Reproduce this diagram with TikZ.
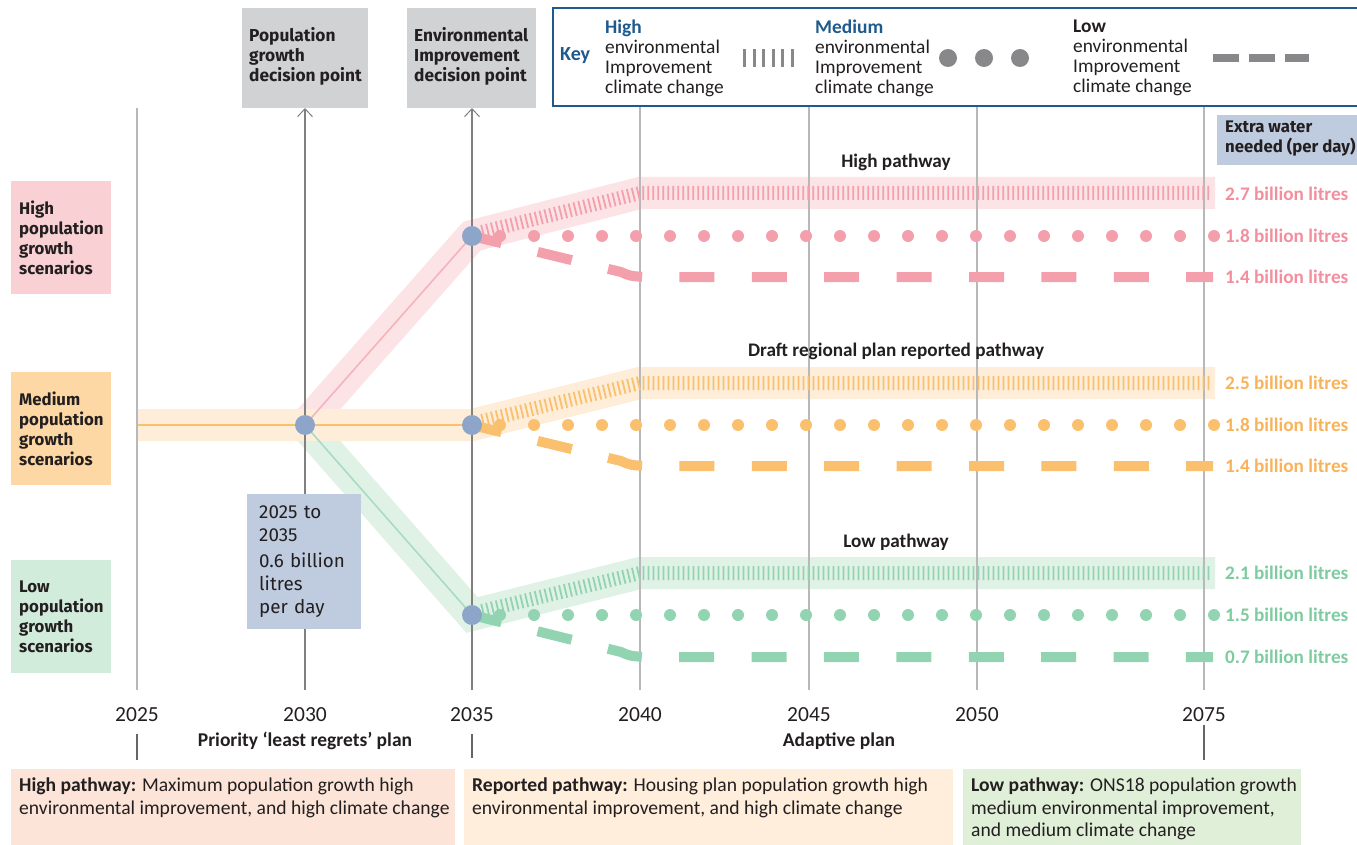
\documentclass[tikz,border=0pt]{standalone}
\usepackage{fontspec}
\setmainfont{Carlito}
\newfontfamily\wide{Fira Sans}
\usetikzlibrary{arrows.meta}
\definecolor{ink}{HTML}{231F20}
\definecolor{pinkc}{HTML}{F4A0AC}
\definecolor{pinkband}{HTML}{FCE3E6}
\definecolor{pinkline}{HTML}{F6B3BB}
\definecolor{pinktext}{HTML}{F28E9E}
\definecolor{orangec}{HTML}{FBC06E}
\definecolor{orangeband}{HTML}{FEEDD8}
\definecolor{orangetext}{HTML}{F8B35A}
\definecolor{greenc}{HTML}{92D4B2}
\definecolor{greenband}{HTML}{E0F1E6}
\definecolor{greenline}{HTML}{A8DCC0}
\definecolor{greentext}{HTML}{7ECBA0}
\definecolor{nodeblue}{HTML}{8CA5C9}
\definecolor{greybox}{HTML}{D1D2D4}
\definecolor{keyblue}{HTML}{1F5A8C}
\definecolor{keygrey}{HTML}{88888A}
\definecolor{infoblue}{HTML}{BFCCE0}
\definecolor{scpink}{HTML}{F9D0D4}
\definecolor{scorange}{HTML}{FDD8A4}
\definecolor{scgreen}{HTML}{D2ECDC}
\definecolor{botpink}{HTML}{FCE4D8}
\definecolor{botorange}{HTML}{FEEEDB}
\definecolor{botgreen}{HTML}{E0EFD8}
\begin{document}
\begin{tikzpicture}[x=1pt,y=-1pt,
  every node/.style={inner sep=0pt, text=ink},
  band/.style={line width=32pt, line join=miter},
  thinline/.style={line width=1.6pt},
  hatch/.style={line width=14pt, dash pattern=on 1.8pt off 3.2pt},
  dotline/.style={line width=12pt, line cap=round, dash pattern=on 0pt off 34pt},
  dashline/.style={line width=10pt, dash pattern=on 35pt off 37.4pt, dash phase=13pt},
  darkgrid/.style={draw=black!50, line width=1.1pt},
  lightgrid/.style={draw=black!28, line width=1.1pt},
  tick/.style={draw=black!60, line width=1.6pt},
  dectext/.style={anchor=west, align=left, font=\wide\bfseries\fontsize{17.3}{20}\selectfont},
  scbox/.style={minimum width=100pt, minimum height=113pt, text width=84pt, align=left,
    font=\wide\bfseries\fontsize{16.8}{20}\selectfont},
  year/.style={font=\fontsize{21.5}{24}\selectfont},
  plan/.style={font=\bfseries\fontsize{19.5}{22}\selectfont},
  pathlabel/.style={font=\bfseries\fontsize{19.2}{22}\selectfont},
  amount/.style={anchor=west, font=\bfseries\fontsize{19.2}{22}\selectfont},
  keytext/.style={anchor=west, align=left, font=\fontsize{19.4}{20}\selectfont},
  botbox/.style={anchor=north west, align=left, font=\fontsize{19.6}{22.5}\selectfont},
  decision/.style={circle, fill=nodeblue, minimum size=20pt}
]
\useasboundingbox (0,0) rectangle (1357,845);

% ---------- path corner points ----------
\coordinate (m0) at (137,425);
\coordinate (h1) at (640,193);  \coordinate (h2) at (1215,193);
\coordinate (o1) at (640,383);  \coordinate (o2) at (1215,383);
\coordinate (g1) at (640,573);  \coordinate (g2) at (1215,573);

% ---------- decision points ----------
\path (305,425) coordinate (p30)
      (472,236) coordinate (ph)
      (472,425) coordinate (pm)
      (472,615) coordinate (pl);

% ---------- pathway bands ----------
\draw[band, pinkband] (p30) -- (ph) -- (h1) -- (h2);
\draw[band, greenband] (p30) -- (pl) -- (g1) -- (g2);
\draw[band, orangeband] (m0) -- (pm) -- (o1) -- (o2);

\draw[thinline, pinkline] (p30) -- (ph);
\draw[thinline, greenline] (p30) -- (pl);
\draw[thinline, orangec] (m0) -- (pm);

% ---------- grid lines ----------
\coordinate (t25) at (137,108);  \coordinate (b25) at (137,690);
\coordinate (t30) at (305,108);  \coordinate (b30) at (305,690);
\coordinate (t35) at (472,108);  \coordinate (b35) at (472,690);
\coordinate (t40) at (640,107);  \coordinate (b40) at (640,690);
\coordinate (t45) at (809,107);  \coordinate (b45) at (809,690);
\coordinate (t50) at (977,107);  \coordinate (b50) at (977,690);
\coordinate (t75) at (1204,107); \coordinate (b75) at (1204,690);
\draw[lightgrid] (b25) -- (t25);
\draw[darkgrid, -{Straight Barb[length=8pt,width=15pt,line width=1pt]}] (b30) -- (t30);
\draw[darkgrid, -{Straight Barb[length=8pt,width=15pt,line width=1pt]}] (b35) -- (t35);
\draw[lightgrid] (b40) -- (t40);
\draw[lightgrid] (b45) -- (t45);
\draw[lightgrid] (b50) -- (t50);
\draw[lightgrid] (b75) -- (t75);

% ---------- high pathway lines ----------
\coordinate (hh0) at (482,232);
\coordinate (hh2) at (1212,193);
\draw[hatch, pinkc] (hh0) -- (h1) -- (hh2);
\coordinate (hd0) at (500,236); \coordinate (hd1) at (1214,236);
\draw[dotline, pinkc] (hd0) -- (hd1);
\coordinate (hl0) at (480,238); \coordinate (hl1) at (621,272);
\coordinate (hl2) at (645,277); \coordinate (hl3) at (1213,277);
\draw[dashline, pinkc] (hl0) -- (hl1) .. controls (630,276) .. (hl2) -- (hl3);

% ---------- reported pathway lines ----------
\coordinate (oh0) at (482,421);
\coordinate (oh2) at (1212,383);
\draw[hatch, orangec] (oh0) -- (o1) -- (oh2);
\coordinate (od0) at (500,425); \coordinate (od1) at (1214,425);
\draw[dotline, orangec] (od0) -- (od1);
\coordinate (ol0) at (480,427); \coordinate (ol1) at (621,461);
\coordinate (ol2) at (645,466); \coordinate (ol3) at (1213,466);
\draw[dashline, orangec] (ol0) -- (ol1) .. controls (630,465) .. (ol2) -- (ol3);

% ---------- low pathway lines ----------
\coordinate (gh0) at (482,611);
\coordinate (gh2) at (1212,573);
\draw[hatch, greenc] (gh0) -- (g1) -- (gh2);
\coordinate (gd0) at (500,615); \coordinate (gd1) at (1214,615);
\draw[dotline, greenc] (gd0) -- (gd1);
\coordinate (gl0) at (480,617); \coordinate (gl1) at (621,652);
\coordinate (gl2) at (645,657); \coordinate (gl3) at (1213,657);
\draw[dashline, greenc] (gl0) -- (gl1) .. controls (630,656) .. (gl2) -- (gl3);

% ---------- decision point markers ----------
\node[decision] (n30) at (p30) {};
\node[decision] (nh) at (ph) {};
\node[decision] (nm) at (pm) {};
\node[decision] (nl) at (pl) {};

% ---------- decision point boxes ----------
\fill[greybox] (242,8) rectangle (368,108);
\fill[greybox] (407,8) rectangle (536,108);
\node[dectext] (popbox) at (249,56) {Population\\growth\\decision point};
\node[dectext] (envbox) at (414,56) {Environmental\\Improvement\\decision point};

% ---------- key ----------
\draw[keyblue, line width=2pt] (553,8) rectangle (1362,106);
\node[anchor=west, text=keyblue, font=\bfseries\fontsize{20}{20}\selectfont] (keylbl) at (560,56) {Key};
\node[keytext] (keyhigh) at (605,58) {\textcolor{keyblue}{\bfseries High}\\environmental\\Improvement\\climate change};
\draw[keygrey, line width=18pt, dash pattern=on 3pt off 6.6pt] (743,58) -- (794,58);
\node[keytext] (keymed) at (815,58) {\textcolor{keyblue}{\bfseries Medium}\\environmental\\Improvement\\climate change};
\foreach \cx in {948,984,1020} \fill[keygrey] (\cx,58) circle (9pt);
\node[keytext] (keylow) at (1073,58) {{\bfseries Low}\\environmental\\Improvement\\climate change};
\draw[keygrey, line width=8pt, dash pattern=on 26pt off 10pt] (1213,58) -- (1309,58);

% ---------- extra water header ----------
\fill[infoblue] (1217,115) rectangle (1357,165);
\node[anchor=west, align=left, font=\wide\bfseries\fontsize{16.8}{20}\selectfont] (extra) at (1225,139)
  {Extra water\\needed (per day)};

% ---------- scenario boxes ----------
\node[scbox, fill=scpink, anchor=north west] (schigh) at (11,181) {High\\population\\growth\\scenarios};
\node[scbox, fill=scorange, anchor=north west] (scmed) at (11,372) {Medium\\population\\growth\\scenarios};
\node[scbox, fill=scgreen, anchor=north west] (sclow) at (11,560) {Low\\population\\growth\\scenarios};

% ---------- first decade box ----------
\node[fill=infoblue, anchor=north west, minimum width=114pt, minimum height=135pt, text width=100pt,
  align=left, font=\wide\fontsize{18.8}{23}\selectfont] (decade) at (247,494)
  {\hspace*{5pt}2025 to\\\hspace*{5pt}2035\\[3pt]\hspace*{5pt}0.6 billion\\\hspace*{5pt}litres\\\hspace*{5pt}per day};

% ---------- pathway titles ----------
\node[pathlabel] (hightitle) at (896,162) {High pathway};
\node[pathlabel] (medtitle) at (896,351) {Draft regional plan reported pathway};
\node[pathlabel] (lowtitle) at (896,542) {Low pathway};

% ---------- amounts ----------
\node[amount, text=pinktext] (a27) at (1225,194) {2.7 billion litres};
\node[amount, text=pinktext] (a18h) at (1225,236) {1.8 billion litres};
\node[amount, text=pinktext] (a14h) at (1225,277) {1.4 billion litres};
\node[amount, text=orangetext] (a25) at (1225,383) {2.5 billion litres};
\node[amount, text=orangetext] (a18m) at (1225,425) {1.8 billion litres};
\node[amount, text=orangetext] (a14m) at (1225,466) {1.4 billion litres};
\node[amount, text=greentext] (a21) at (1225,573) {2.1 billion litres};
\node[amount, text=greentext] (a15) at (1225,615) {1.5 billion litres};
\node[amount, text=greentext] (a07) at (1225,657) {0.7 billion litres};

% ---------- axis ----------
\node[year] (y25) at (137,715) {2025};
\node[year] (y30) at (305,715) {2030};
\node[year] (y35) at (472,715) {2035};
\node[year] (y40) at (640,715) {2040};
\node[year] (y45) at (809,715) {2045};
\node[year] (y50) at (977,715) {2050};
\node[year] (y75) at (1204,715) {2075};
\node[plan] (prio) at (305,741) {Priority ‘least regrets’ plan};
\node[plan] (adapt) at (839,741) {Adaptive plan};
\coordinate (k25a) at (137,734); \coordinate (k25b) at (137,760);
\coordinate (k35a) at (472,734); \coordinate (k35b) at (472,758);
\coordinate (k75a) at (1204,725); \coordinate (k75b) at (1204,760);
\draw[tick] (k25a) -- (k25b);
\draw[tick] (k35a) -- (k35b);
\draw[tick] (k75a) -- (k75b);

% ---------- pathway descriptions ----------
\fill[botpink] (11,769) rectangle (455,845);
\fill[botorange] (464,769) rectangle (953,845);
\fill[botgreen] (963,769) rectangle (1301,845);
\node[botbox] (dhigh) at (19,778) {\textbf{High pathway:} Maximum population growth high\\environmental improvement, and high climate change};
\node[botbox] (dmed) at (472,778) {\textbf{Reported pathway:} Housing plan population growth high\\environmental improvement, and high climate change};
\node[botbox] (dlow) at (971,778) {\textbf{Low pathway:} ONS18 population growth\\medium environmental improvement,\\and medium climate change};
\end{tikzpicture}
\end{document}
